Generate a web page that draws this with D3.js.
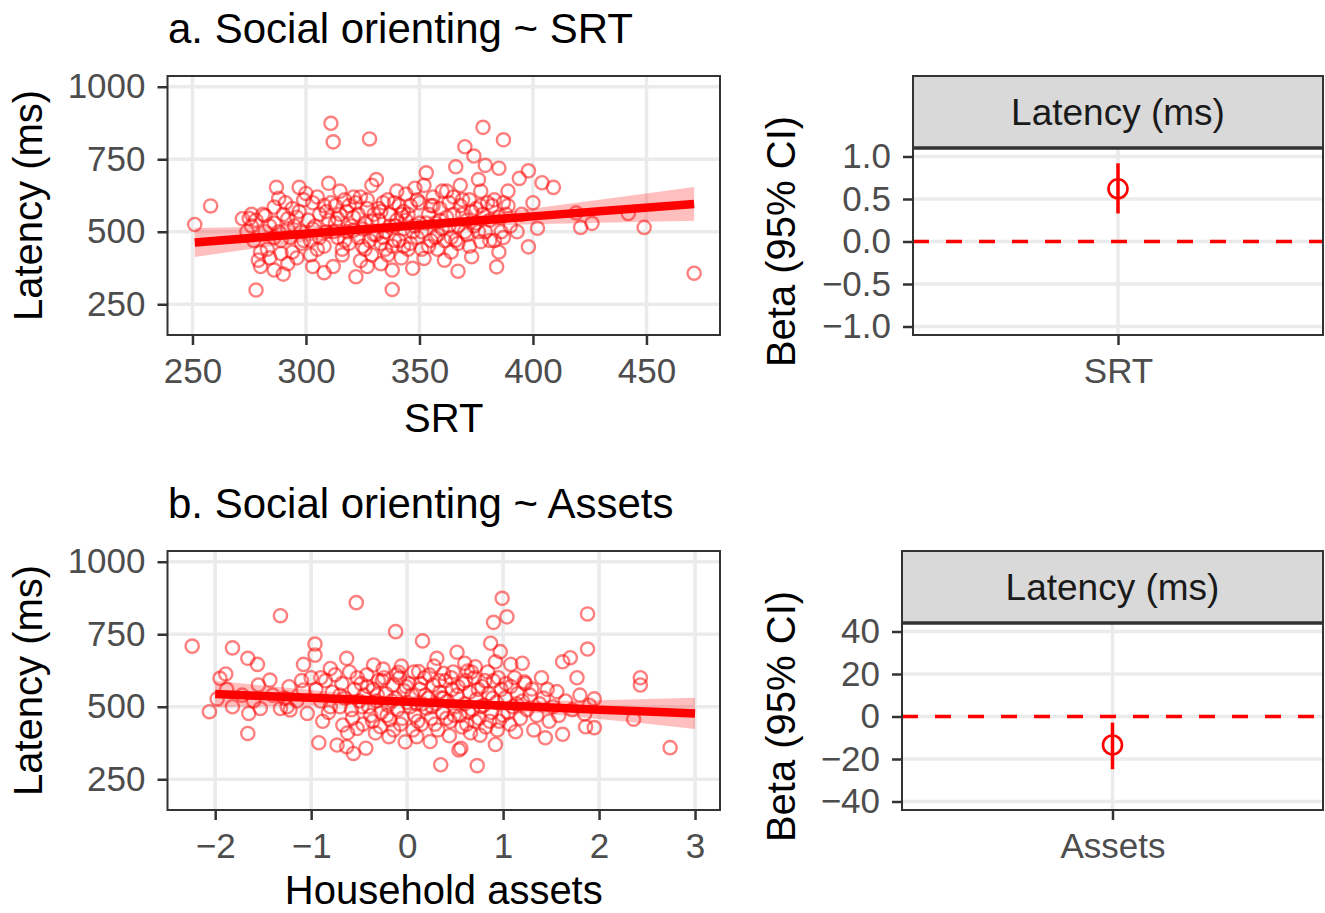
<!DOCTYPE html>
<html>
<head>
<meta charset="utf-8">
<script src="https://cdn.jsdelivr.net/npm/d3@7"></script>
<style>
  body { margin: 0; background: #fff; }
  text { font-family: "Liberation Sans", Arial, Helvetica, sans-serif; }
</style>
</head>
<body>
<svg id="chart" width="1325" height="913"></svg>
<script>
// ---- data ----
const srtPoints = [
  [251,525],[258,589],[272,545],[275,546],[276,520],[278,540],[279,402],[280,430],[277,470],[274,500],[281,560],[280,380],[278,299],
  [282,555],[284,520],[286,368],[286,530],[287,653],[288,615],[289,470],[283,440],[290,354],[286,585],[288,500],[284,410],[290,560],[289,425],
  [291,600],[292,545],[293,480],[294,430],[295,520],[297,653],[297,570],[298,460],[299,610],[292,390],[296,410],[300,632],[298,500],[294,580],
  [301,540],[302,470],[303,600],[304,520],[305,440],[306,560],[308,359],[308,590],[309,500],[310,667],[302,420],[305,620],[308,450],[310,540],[303,380],
  [311,874],[312,810],[311,600],[313,530],[314,480],[315,560],[316,420],[317,610],[318,500],[319,460],[312,380],[315,640],[318,570],[320,520],[316,440],[313,590],
  [321,550],[322,345],[323,480],[324,620],[325,510],[326,440],[327,580],[328,820],[329,660],[330,490],[322,600],[324,400],[326,530],[328,470],[330,560],[329,420],[321,620],[327,380],
  [331,680],[332,540],[333,460],[334,600],[335,500],[336,420],[337,560],[338,301],[338,368],[339,520],[340,640],[332,580],[334,480],[336,610],[338,450],[340,540],[333,390],[339,600],
  [341,470],[342,560],[343,510],[344,630],[345,440],[346,590],[347,374],[348,520],[349,480],[350,600],[342,410],[344,540],[346,460],[348,650],[350,530],[343,570],
  [351,500],[352,408],[353,703],[354,560],[355,470],[356,620],[357,530],[358,440],[359,580],[360,510],[352,660],[354,450],[356,590],[358,490],[360,640],
  [361,402],[362,550],[363,600],[364,480],[365,620],[366,471],[366,724],[367,364],[367,520],[368,660],[369,560],[370,793],[362,640],[364,430],[368,590],[370,500],
  [371,540],[372,610],[373,414],[374,761],[375,580],[376,500],[377,466],[378,860],[379,729],[377,640],[372,450],[374,520],[378,560],[380,600],[376,680],
  [381,540],[382,590],[384,379],[385,430],[385,719],[387,817],[386,500],[388,560],[389,640],[383,470],[387,600],[390,520],
  [393,500],[394,684],[398,448],[398,710],[402,512],[404,669],[409,653],[395,560],[400,600],
  [419,565],[421,515],[426,529],[442,563],[449,515],[471,357],
  [303,510],[306,480],[309,570],[312,500],[314,545],[317,470],[319,590],[321,505],[323,560],[325,450],[327,610],[329,535],
  [331,490],[333,570],[335,440],[337,520],[339,470],[341,590],[343,450],[345,560],[347,500],[349,610],[351,440],[353,530],
  [355,590],[357,480],[359,540],[361,470],[363,520],[365,560],[367,460],[369,610],[371,490],[373,570],[375,530],[377,590],
  [379,500],[381,470],[383,610],[385,550],[387,480],[389,590],[286,480],[292,510],[296,550],[299,470],[282,500],[276,560]
]

const assetPoints = [
  [-2.24,709],[-2.06,483],[-1.98,527],[-1.95,598],[-1.89,613],[-1.82,703],[-1.82,500],[-1.66,667],[-1.66,408],[-1.65,477],[-1.56,646],[-1.55,575],[-1.53,494],[-1.88,560],[-1.72,540],[-1.60,520],
  [-1.43,592],[-1.32,814],[-1.32,494],[-1.22,489],[-1.23,569],[-1.08,646],[-1.08,558],[-1.04,477],[-0.96,716],[-0.96,678],[-1.40,540],[-1.15,520],[-1.00,600],[-1.28,530],
  [-0.92,376],[-0.80,632],[-0.73,368],[-0.67,437],[-0.63,362],[-0.63,667],[-0.57,460],[-0.56,339],[-0.52,425],[-0.53,859],[-0.95,560],[-0.90,520],[-0.85,590],[-0.82,480],[-0.78,550],[-0.75,610],[-0.70,500],[-0.68,580],[-0.65,530],[-0.60,620],[-0.58,490],[-0.55,560],[-0.52,600],[-0.50,520],[-0.88,450],[-0.62,410],
  [-0.43,357],[-0.35,644],[-0.28,431],[-0.19,397],[-0.12,759],[-0.09,619],[-0.02,379],[-0.48,580],[-0.45,540],[-0.42,610],[-0.40,500],[-0.38,470],[-0.35,560],[-0.32,520],[-0.30,590],[-0.27,480],[-0.25,630],[-0.22,545],[-0.20,505],[-0.18,455],[-0.15,575],[-0.12,530],[-0.10,490],[-0.08,600],[-0.05,460],[-0.03,555],[0.00,515],[-0.46,440],[-0.33,410],[-0.24,600],[-0.14,420],[-0.06,640],
  [0.10,397],[0.12,621],[0.16,727],[0.31,667],[0.35,300],[0.38,615],[0.54,351],[0.02,580],[0.05,540],[0.08,470],[0.10,510],[0.13,560],[0.15,440],[0.18,600],[0.20,495],[0.22,530],[0.25,460],[0.27,575],[0.30,510],[0.32,420],[0.34,550],[0.37,480],[0.40,590],[0.42,520],[0.45,450],[0.47,560],[0.50,500],[0.06,420],[0.24,380],[0.44,400],[0.28,640],[0.48,620],[0.16,510],[0.36,530],
  [0.52,688],[0.56,357],[0.63,623],[0.71,638],[0.73,297],[0.76,402],[0.87,719],[0.90,791],[0.92,655],[0.92,370],[0.97,690],[0.99,874],[0.52,540],[0.55,470],[0.58,580],[0.60,510],[0.62,440],[0.65,550],[0.68,490],[0.70,600],[0.72,525],[0.75,460],[0.78,570],[0.80,505],[0.82,430],[0.85,545],[0.88,480],[0.90,590],[0.93,515],[0.96,450],[0.98,560],[0.66,410],[0.84,620],[0.60,650],[0.94,420],
  [1.04,810],[1.08,646],[1.13,414],[1.20,650],[1.22,586],[1.30,561],[1.32,420],[1.44,393],[1.02,530],[1.05,480],[1.08,570],[1.10,500],[1.15,545],[1.18,460],[1.20,520],[1.25,490],[1.28,540],[1.35,470],[1.38,510],[1.42,530],[1.46,560],[1.48,450],[1.12,600],[1.40,600],
  [1.56,552],[1.62,655],[1.62,405],[1.70,669],[1.77,600],[1.86,431],[1.88,820],[1.88,699],[1.95,527],[1.95,428],[1.52,500],[1.58,470],[1.65,520],[1.72,490],[1.80,540],[1.85,475],[1.90,505],
  [2.36,457],[2.43,600],[2.43,575],[2.74,359],
  [-0.47,500],[-0.41,570],[-0.36,450],[-0.31,540],[-0.26,590],[-0.21,470],[-0.16,520],[-0.11,610],[-0.07,440],[-0.01,570],
  [0.03,500],[0.07,620],[0.11,450],[0.14,580],[0.19,540],[0.23,610],[0.26,500],[0.29,440],[0.33,590],[0.38,530],
  [0.41,460],[0.46,600],[0.49,470],[0.53,570],[0.57,430],[0.61,590],[0.64,480],[0.67,620],[0.71,450],[0.74,560],
  [0.77,500],[0.81,590],[0.86,450],[0.89,530],[0.95,600],[1.00,470],[1.03,580],[1.07,440],[1.14,510],[1.23,580],
  [-0.70,540],[-0.80,500],[-0.90,600],[-1.10,590],[-1.25,500]
]

// fitted lines and 95% bands, read at a few x positions
const srtFitX  = [251, 280, 310, 340, 370, 400, 435, 471]
const srtFitY  = [463, 481, 499, 517, 535, 553, 574, 596]
const srtFitLo = [413, 445, 476, 502, 518, 526, 532, 538]
const srtFitHi = [513, 517, 522, 532, 552, 580, 616, 654]

const assetFitX  = [-2, -1.5, -1, -0.5, 0, 0.5, 1, 1.5, 2, 2.5, 3]
const assetFitY  = [544, 537, 531, 524, 517, 510, 504, 497, 490, 484, 477]
const assetFitLo = [498, 501, 504, 506, 504, 498, 489, 474, 458, 441, 423]
const assetFitHi = [590, 573, 558, 542, 530, 522, 519, 520, 522, 527, 531]

// coefficient estimates
const coefLabels = ['SRT', 'Assets']
const coefBeta   = [0.62, -13.4]
const coefLo     = [0.33, -24.8]
const coefHi     = [0.92, -2.9]

// tick values
const latencyTicks = [250, 500, 750, 1000]
const srtTicks     = [250, 300, 350, 400, 450]
const assetTicks   = [-2, -1, 0, 1, 2, 3]
const betaTicksA   = [-1, -0.5, 0, 0.5, 1]
const betaTicksB   = [-40, -20, 0, 20, 40]

const svg = d3.select('#chart')
const FONT = '"Liberation Sans", Arial, Helvetica, sans-serif'
const grid = '#ebebeb'
const dark = '#333333'

function styleAxis(g) {
  g.attr('font-size', 35).attr('font-family', FONT)
  g.select('.domain').remove()
  g.selectAll('.tick line').attr('stroke', dark).attr('stroke-width', 2.5)
  g.selectAll('.tick text').attr('fill', '#4d4d4d')
}

function drawScatter(o) {
  const x = d3.scaleLinear().domain(o.xDomain).range([o.x0, o.x1])
  const y = d3.scaleLinear().domain([144, 1037]).range([o.y1, o.y0])
  const g = svg.append('g')

  g.selectAll('.gx').data(o.xTicks).enter().append('line')
    .attr('x1', d => x(d)).attr('x2', d => x(d))
    .attr('y1', o.y0).attr('y2', o.y1)
    .attr('stroke', grid).attr('stroke-width', 3.5)
  g.selectAll('.gy').data(latencyTicks).enter().append('line')
    .attr('x1', o.x0).attr('x2', o.x1)
    .attr('y1', d => y(d)).attr('y2', d => y(d))
    .attr('stroke', grid).attr('stroke-width', 3.5)

  g.selectAll('circle').data(o.points).enter().append('circle')
    .attr('cx', d => x(d[0])).attr('cy', d => y(d[1]))
    .attr('r', 6.6)
    .attr('fill', 'none')
    .attr('stroke', 'rgba(255,0,0,0.5)')
    .attr('stroke-width', 2.4)

  const area = d3.area()
    .x((d, i) => x(o.fitX[i]))
    .y0((d, i) => y(o.fitLo[i]))
    .y1((d, i) => y(o.fitHi[i]))
  g.append('path').datum(o.fitX).attr('d', area)
    .attr('fill', 'rgba(255,0,0,0.25)')

  const line = d3.line().x((d, i) => x(o.fitX[i])).y((d, i) => y(o.fitY[i]))
  g.append('path').datum(o.fitX).attr('d', line)
    .attr('fill', 'none').attr('stroke', '#ff0000').attr('stroke-width', 8.5)

  g.append('rect')
    .attr('x', o.x0).attr('y', o.y0)
    .attr('width', o.x1 - o.x0).attr('height', o.y1 - o.y0)
    .attr('fill', 'none').attr('stroke', dark).attr('stroke-width', 2)

  g.append('g').attr('transform', 'translate(' + o.x0 + ',0)')
    .call(d3.axisLeft(y).tickValues(latencyTicks).tickSize(10).tickPadding(12).tickFormat(d3.format('d')))
    .call(styleAxis)
  g.append('g').attr('transform', 'translate(0,' + o.y1 + ')')
    .call(d3.axisBottom(x).tickValues(o.xTicks).tickSize(10).tickPadding(13).tickFormat(d3.format('d')))
    .call(styleAxis)

  svg.append('text')
    .attr('x', 168).attr('y', o.y0 - 33)
    .style('font-size', '42px')
    .text(o.title)

  svg.append('text')
    .attr('x', (o.x0 + o.x1) / 2).attr('y', o.y1 + o.xLabelDy)
    .attr('text-anchor', 'middle')
    .style('font-size', '40px')
    .text(o.xLabel)

  svg.append('text')
    .attr('transform', 'translate(42,' + ((o.y0 + o.y1) / 2) + ') rotate(-90)')
    .attr('text-anchor', 'middle')
    .style('font-size', '40px')
    .text('Latency (ms)')
}

function drawCoef(o) {
  const x = d3.scalePoint().domain([coefLabels[o.i]]).range([o.x0, o.x1]).padding(0.5)
  const y = d3.scaleLinear().domain(o.yDomain).range([o.y1, o.y0])
  const g = svg.append('g')
  const cx = x(coefLabels[o.i])

  g.selectAll('.gy').data(o.ticks).enter().append('line')
    .attr('x1', o.x0).attr('x2', o.x1)
    .attr('y1', d => y(d)).attr('y2', d => y(d))
    .attr('stroke', grid).attr('stroke-width', 3.5)
  g.append('line')
    .attr('x1', cx).attr('x2', cx).attr('y1', o.y0).attr('y2', o.y1)
    .attr('stroke', grid).attr('stroke-width', 3.5)

  g.append('line')
    .attr('x1', o.x0).attr('x2', o.x1).attr('y1', y(0)).attr('y2', y(0))
    .attr('stroke', '#ff0000').attr('stroke-width', 3.5)
    .attr('stroke-dasharray', '16,17')

  g.append('line')
    .attr('x1', cx).attr('x2', cx)
    .attr('y1', y(coefLo[o.i])).attr('y2', y(coefHi[o.i]))
    .attr('stroke', '#ff0000').attr('stroke-width', 3.5)
  g.append('circle')
    .attr('cx', cx).attr('cy', y(coefBeta[o.i])).attr('r', 9.5)
    .attr('fill', 'none').attr('stroke', '#ff0000').attr('stroke-width', 2.6)

  g.append('rect')
    .attr('x', o.x0).attr('y', o.y0)
    .attr('width', o.x1 - o.x0).attr('height', o.y1 - o.y0)
    .attr('fill', 'none').attr('stroke', dark).attr('stroke-width', 2)

  // facet strip
  g.append('rect')
    .attr('x', o.x0).attr('y', o.stripTop)
    .attr('width', o.x1 - o.x0).attr('height', o.y0 - o.stripTop)
    .attr('fill', '#d9d9d9').attr('stroke', dark).attr('stroke-width', 2)
  g.append('line')
    .attr('x1', o.x0).attr('x2', o.x1).attr('y1', o.y0).attr('y2', o.y0)
    .attr('stroke', dark).attr('stroke-width', 3.5)
  g.append('text')
    .attr('x', (o.x0 + o.x1) / 2).attr('y', o.stripTop + 49)
    .attr('text-anchor', 'middle')
    .attr('fill', '#1a1a1a')
    .style('font-size', '37px')
    .text('Latency (ms)')

  g.append('g').attr('transform', 'translate(' + o.x0 + ',0)')
    .call(d3.axisLeft(y).tickValues(o.ticks).tickSize(10).tickPadding(12).tickFormat(o.fmt))
    .call(styleAxis)
  g.append('g').attr('transform', 'translate(0,' + o.y1 + ')')
    .call(d3.axisBottom(x).tickSize(10).tickPadding(13))
    .call(styleAxis)

  svg.append('text')
    .attr('transform', 'translate(795,' + ((o.y0 + o.y1) / 2) + ') rotate(-90)')
    .attr('text-anchor', 'middle')
    .style('font-size', '40px')
    .text('Beta (95% CI)')
}

drawScatter({
  title: 'a. Social orienting ~ SRT', xLabel: 'SRT', xLabelDy: 97,
  points: srtPoints, xDomain: [239, 482.4], xTicks: srtTicks,
  fitX: srtFitX, fitY: srtFitY, fitLo: srtFitLo, fitHi: srtFitHi,
  x0: 167.5, x1: 720, y0: 76, y1: 335
})
drawScatter({
  title: 'b. Social orienting ~ Assets', xLabel: 'Household assets', xLabelDy: 94,
  points: assetPoints, xDomain: [-2.497, 3.26], xTicks: assetTicks,
  fitX: assetFitX, fitY: assetFitY, fitLo: assetFitLo, fitHi: assetFitHi,
  x0: 167.5, x1: 720, y0: 551, y1: 810
})
drawCoef({
  i: 0, yDomain: [-1.1, 1.1], ticks: betaTicksA, fmt: d3.format('.1f'),
  x0: 913, x1: 1323, stripTop: 76, y0: 148, y1: 335
})
drawCoef({
  i: 1, yDomain: [-44, 44], ticks: betaTicksB, fmt: d3.format('d'),
  x0: 902, x1: 1323, stripTop: 551, y0: 623, y1: 810
})
</script>
</body>
</html>
